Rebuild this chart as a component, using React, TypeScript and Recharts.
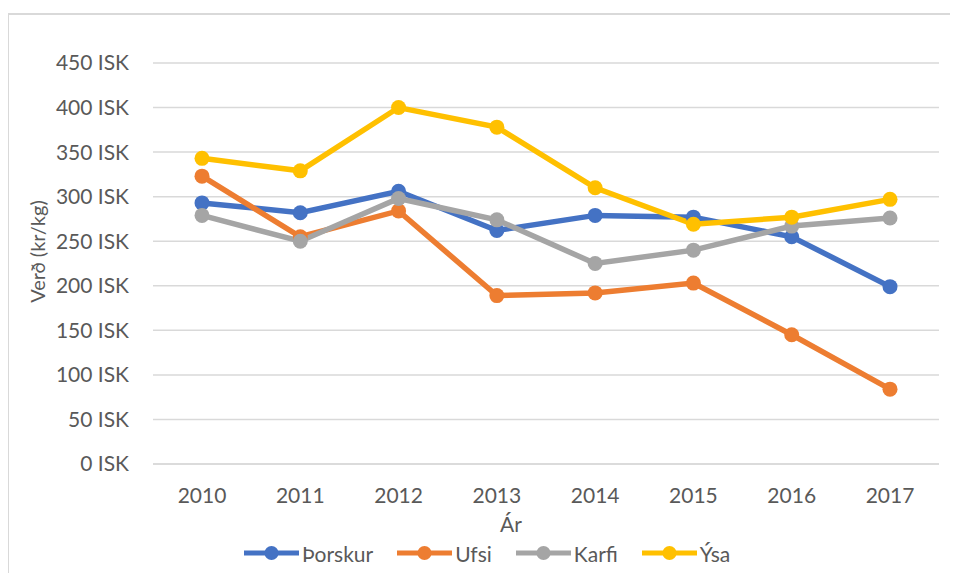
import React from 'react';
import { LineChart, Line, XAxis, YAxis, CartesianGrid, Legend, Label } from 'recharts';

const years = ['2010', '2011', '2012', '2013', '2014', '2015', '2016', '2017'];
const thorskur = [293, 282, 306, 262, 279, 277, 255, 199];
const ufsi = [323, 255, 284, 189, 192, 203, 145, 84];
const karfi = [279, 250, 298, 274, 225, 240, 267, 276];
const ysa = [343, 329, 400, 378, 310, 269, 277, 297];
const yTicks = [0, 50, 100, 150, 200, 250, 300, 350, 400, 450];
const seriesNames = ['Þorskur', 'Ufsi', 'Karfi', 'Ýsa'];
const seriesColors = ['#4472C4', '#ED7D31', '#A5A5A5', '#FFC000'];
const xTitle = 'Ár';
const yTitle = 'Verð (kr/kg)';

const seriesValues = [thorskur, ufsi, karfi, ysa];
const data = years.map((year, i) => {
  const row: Record<string, string | number> = { year };
  seriesValues.forEach((vals, s) => {
    row['s' + s] = vals[i];
  });
  return row;
});

const FONT = 'Lato, "Open Sans", sans-serif';
const TEXT = '#595959';

const renderLegend = () => (
  <div
    style={{
      display: 'flex',
      alignItems: 'center',
      height: 30,
      paddingLeft: 244,
      fontFamily: FONT,
      fontSize: 21,
      color: TEXT,
      boxSizing: 'border-box',
    }}
  >
    {seriesNames.map((name, i) => (
      <div key={name} style={{ display: 'flex', alignItems: 'center', marginRight: 24 }}>
        <svg width={55} height={18}>
          <line x1={0} y1={9} x2={55} y2={9} stroke={seriesColors[i]} strokeWidth={5} />
          <circle cx={27.5} cy={9} r={7} fill={seriesColors[i]} />
        </svg>
        <span style={{ marginLeft: 3 }}>{name}</span>
      </div>
    ))}
  </div>
);

export default function App() {
  return (
    <div style={{ position: 'relative', width: 958, height: 581, margin: -8, overflow: 'hidden', background: '#fff' }}>
      <div
        style={{
          position: 'absolute',
          left: 7,
          top: 13,
          width: 1000,
          height: 700,
          borderLeft: '2px solid #d9d9d9',
          borderTop: '2px solid #d9d9d9',
        }}
      />
      <div style={{ position: 'absolute', left: 0, top: 0 }}>
        <LineChart
          width={958}
          height={581}
          data={data}
          margin={{ top: 63, right: 19, bottom: 13, left: 0 }}
          style={{ fontFamily: FONT }}
        >
          <CartesianGrid horizontal vertical={false} stroke="#d9d9d9" strokeWidth={1.5} />
          <XAxis
            dataKey="year"
            padding={{ left: 49, right: 49 }}
            height={74}
            tickSize={0}
            tickMargin={24}
            axisLine={{ stroke: '#d9d9d9', strokeWidth: 1.5 }}
            tickLine={false}
            tick={{ fill: TEXT, fontSize: 21, fontFamily: FONT }}
            interval={0}
          >
            <Label
              content={(props: any) => {
                const vb = props.viewBox || {};
                const cx = (vb.x || 0) + (vb.width || 0) / 2 - 35;
                const by = (vb.y || 0) + (vb.height || 0) - 6;
                return (
                  <text x={cx} y={by} textAnchor="middle" fill={TEXT} fontSize={21} fontFamily={FONT}>
                    {xTitle}
                  </text>
                );
              }}
            />
          </XAxis>
          <YAxis
            width={153}
            domain={[0, 450]}
            ticks={yTicks}
            tickFormatter={(v: number) => `${v} ISK`}
            tickSize={0}
            tickMargin={24}
            axisLine={false}
            tickLine={false}
            tick={{ fill: TEXT, fontSize: 21, fontFamily: FONT }}
          >
            <Label
              content={(props: any) => {
                const vb = props.viewBox || {};
                const cy = (vb.y || 0) + (vb.height || 0) / 2 - 12;
                return (
                  <text
                    x={0}
                    y={0}
                    transform={`translate(45, ${cy}) rotate(-90)`}
                    textAnchor="middle"
                    fill={TEXT}
                    fontSize={20}
                    fontFamily={FONT}
                  >
                    {yTitle}
                  </text>
                );
              }}
            />
          </YAxis>
          <Legend
            verticalAlign="bottom"
            align="left"
            wrapperStyle={{ left: 0, width: 958, height: 30 }}
            content={renderLegend}
          />
          {seriesNames.map((name, i) => (
            <Line
              key={name}
              type="linear"
              dataKey={'s' + i}
              name={name}
              stroke={seriesColors[i]}
              strokeWidth={5.5}
              dot={{ r: 7.5, fill: seriesColors[i], stroke: seriesColors[i], strokeWidth: 0 }}
              activeDot={false}
              isAnimationActive={false}
            />
          ))}
        </LineChart>
      </div>
    </div>
  );
}
